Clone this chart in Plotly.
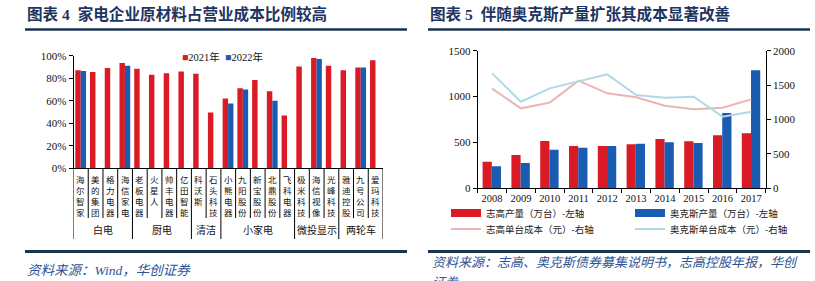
import plotly.graph_objects as go

W, H = 815, 281

# ---------------- Left chart data ----------------
companies = ['海尔智家', '美的集团', '格力电器', '海信家电', '老板电器', '火星人', '帅丰电器',
             '亿田智能', '科沃斯', '石头科技', '小熊电器', '九阳股份', '新宝股份', '北鼎股份',
             '飞科电器', '极米科技', '海信视像', '光峰科技', '雅迪控股', '九号公司', '爱玛科技']
groups = ['白电', '厨电', '清洁', '小家电', '微投显示', '两轮车']
group_sizes = [4, 4, 2, 5, 3, 3]
share_2021 = [0.87, 0.855, 0.89, 0.935, 0.885, 0.83, 0.845, 0.86, 0.84, 0.495, 0.62,
              0.71, 0.785, 0.685, 0.47, 0.905, 0.98, 0.91, 0.87, 0.895, 0.96]
share_2022 = [0.865, None, None, 0.91, None, None, None, None, None, None, 0.575,
              0.70, None, 0.60, None, None, 0.97, None, None, 0.895, None]
left_tickvals = [0, 0.2, 0.4, 0.6, 0.8, 1.0]
left_ticktext = ['0%', '20%', '40%', '60%', '80%', '100%']

# ---------------- Right chart data ----------------
years = ['2008', '2009', '2010', '2011', '2012', '2013', '2014', '2015', '2016', '2017']
zhigao_output = [290, 363, 516, 461, 461, 479, 537, 512, 578, 599]
aux_output = [240, 276, 421, 443, 461, 487, 501, 494, 821, 1286]
zhigao_cost = [1448, 1162, 1245, 1564, 1380, 1322, 1201, 1148, 1172, 1293]
aux_cost = [1671, 1259, 1453, 1550, 1656, 1356, 1317, 1332, 1041, 1114]
right_names = ['志高产量（万台）-左轴', '奥克斯产量（万台）-左轴',
               '志高单台成本（元）-右轴', '奥克斯单台成本（元）-右轴']

RED = '#DA1A24'
BLUE = '#1A5CB2'
PINK = '#EBB4B4'
LBLUE = '#AFD9E6'
NAVY = '#1E3461'
RULE = '#1B3350'
SRC = '#2F5496'
SERIF = 'Liberation Serif, Noto Sans CJK SC'
CJK = 'Noto Sans CJK SC'


def px(x):
    return x / W


def py(y):
    return 1 - y / H


fig = go.Figure()

# left bars
fig.add_trace(go.Bar(x=companies, y=share_2021, name='2021年', marker=dict(color=RED, line_width=0),
                     width=0.37, offset=-0.38, xaxis='x', yaxis='y', showlegend=False))
fig.add_trace(go.Bar(x=companies, y=share_2022, name='2022年', marker=dict(color=BLUE, line_width=0),
                     width=0.36, offset=-0.01, xaxis='x', yaxis='y', showlegend=False))

# right bars
fig.add_trace(go.Bar(x=years, y=zhigao_output, name=right_names[0], marker=dict(color=RED, line_width=0),
                     width=0.32, offset=-0.33, xaxis='x2', yaxis='y2', showlegend=False))
fig.add_trace(go.Bar(x=years, y=aux_output, name=right_names[1], marker=dict(color=BLUE, line_width=0),
                     width=0.32, offset=-0.01, xaxis='x2', yaxis='y2', showlegend=False))
# right lines
fig.add_trace(go.Scatter(x=years, y=zhigao_cost, name=right_names[2], mode='lines',
                         line=dict(color=PINK, width=2), xaxis='x2', yaxis='y3',
                         legend='legend3', legendrank=1))
fig.add_trace(go.Scatter(x=years, y=aux_cost, name=right_names[3], mode='lines',
                         line=dict(color=LBLUE, width=2), xaxis='x2', yaxis='y3',
                         legend='legend3', legendrank=2))
# legend swatches for the bar series (legend only)
fig.add_trace(go.Scatter(x=[None], y=[None], name=right_names[0], mode='lines',
                         line=dict(color=RED, width=8), xaxis='x2', yaxis='y3',
                         legend='legend2', legendrank=1, hoverinfo='skip'))
fig.add_trace(go.Scatter(x=[None], y=[None], name=right_names[1], mode='lines',
                         line=dict(color=BLUE, width=8), xaxis='x2', yaxis='y3',
                         legend='legend2', legendrank=2, hoverinfo='skip'))

shapes = []
annotations = []

# titles + rules
annotations.append(dict(x=px(25), y=py(13.5), xref='paper', yref='paper', xanchor='left', yanchor='middle',
                        text='<b>图表 4  家电企业原材料占营业成本比例较高</b>', showarrow=False,
                        font=dict(family=SERIF, size=15.6, color=NAVY)))
annotations.append(dict(x=px(428), y=py(13.5), xref='paper', yref='paper', xanchor='left', yanchor='middle',
                        text='<b>图表 5  伴随奥克斯产量扩张其成本显著改善</b>', showarrow=False,
                        font=dict(family=SERIF, size=15.6, color=NAVY)))
for x0, x1 in [(25, 407), (428, 810)]:
    shapes.append(dict(type='line', xref='paper', yref='paper', x0=px(x0), x1=px(x1), y0=py(29.5), y1=py(29.5),
                       line=dict(color=RULE, width=2.5)))
    shapes.append(dict(type='line', xref='paper', yref='paper', x0=px(x0), x1=px(x1), y0=py(251.5), y1=py(251.5),
                       line=dict(color=RULE, width=3)))

# sources
annotations.append(dict(x=px(25), y=py(270), xref='paper', yref='paper', xanchor='left', yanchor='middle',
                        text='<i>资料来源：Wind，华创证券</i>', showarrow=False,
                        font=dict(family=SERIF, size=13.5, color=SRC)))
annotations.append(dict(x=px(430), y=py(262), xref='paper', yref='paper', xanchor='left', yanchor='middle',
                        text='<i>资料来源：志高、奥克斯债券募集说明书，志高控股年报，华创</i>', showarrow=False,
                        font=dict(family=SERIF, size=13, color=SRC)))
annotations.append(dict(x=px(430), y=py(282), xref='paper', yref='paper', xanchor='left', yanchor='middle',
                        text='<i>证券</i>', showarrow=False,
                        font=dict(family=SERIF, size=13, color=SRC)))

# left legend
annotations.append(dict(x=px(180), y=py(57.5), xref='paper', yref='paper', xanchor='left', yanchor='middle',
                        text=f'<span style="color:{RED}">■</span>2021年  <span style="color:{BLUE}">■</span>2022年',
                        showarrow=False, font=dict(family=SERIF, size=10.5, color='#111')))

# left category labels (vertical, one character per line)
for i, name in enumerate(companies):
    annotations.append(dict(x=i, y=py(171.5), xref='x', yref='paper', xanchor='center',
                            yanchor='top', text='<br>'.join(name), showarrow=False,
                            font=dict(family=CJK, size=8.5, color='#111'), borderpad=0))
# separators
bounds = [-0.5]
for s in group_sizes:
    bounds.append(bounds[-1] + s)
for i in range(len(companies) + 1):
    xb = i - 0.5
    long_line = xb in bounds
    shapes.append(dict(type='line', xref='x', yref='paper', x0=xb, x1=xb, y0=py(168.3),
                       y1=py(239 if long_line else 218), line=dict(color='black', width=1)))
for g, name in enumerate(groups):
    xc = (bounds[g] + bounds[g + 1]) / 2
    annotations.append(dict(x=xc, y=py(229), xref='x', yref='paper', xanchor='center', yanchor='middle',
                            text=name, showarrow=False, font=dict(family=CJK, size=10, color='#111')))

tickfont = dict(family=SERIF, size=11, color='#111')
legend_common = dict(orientation='h', x=px(446), xanchor='left', yanchor='middle',
                     entrywidth=139, entrywidthmode='pixels', itemwidth=30,
                     font=dict(family=CJK, size=9.5, color='#222'), bgcolor='rgba(0,0,0,0)',
                     tracegroupgap=0, traceorder='normal')
fig.update_layout(
    width=W, height=H, margin=dict(l=0, r=0, t=0, b=0, autoexpand=False),
    paper_bgcolor='white', plot_bgcolor='white', barmode='overlay',
    showlegend=True,
    legend2=dict(legend_common, y=py(213)),
    legend3=dict(legend_common, y=py(229)),
    xaxis=dict(domain=[px(73.5), px(383)], type='category', range=[-0.5, len(companies) - 0.5],
               showticklabels=False, ticks='', showline=True, linecolor='black', linewidth=1,
               showgrid=False, zeroline=False, anchor='y'),
    yaxis=dict(domain=[py(168.3), py(55.7)], range=[0, 1], tickvals=left_tickvals, ticktext=left_ticktext,
               ticks='outside', ticklen=4, tickcolor='black', showline=True, linecolor='black', linewidth=1,
               showgrid=False, zeroline=False, tickfont=tickfont, anchor='x'),
    xaxis2=dict(domain=[px(477.7), px(765.7)], type='category', ticks='outside', tickson='boundaries',
                ticklen=4, tickcolor='black', showline=True, linecolor='black', linewidth=1, tickangle=0,
                showgrid=False, zeroline=False, tickfont=dict(family=SERIF, size=10.5, color='#111'),
                anchor='y2'),
    yaxis2=dict(domain=[py(188.3), py(50.7)], range=[0, 1500], dtick=500, ticks='outside', ticklen=4,
                tickcolor='black', showline=True, linecolor='black', linewidth=1, showgrid=False,
                zeroline=False, tickfont=tickfont, anchor='x2'),
    yaxis3=dict(overlaying='y2', side='right', range=[0, 2000], dtick=500, ticks='outside', ticklen=4,
                tickcolor='black', showline=True, linecolor='black', linewidth=1, showgrid=False,
                zeroline=False, tickfont=tickfont, anchor='x2'),
    shapes=shapes, annotations=annotations,
)

fig.write_html('out.html')
